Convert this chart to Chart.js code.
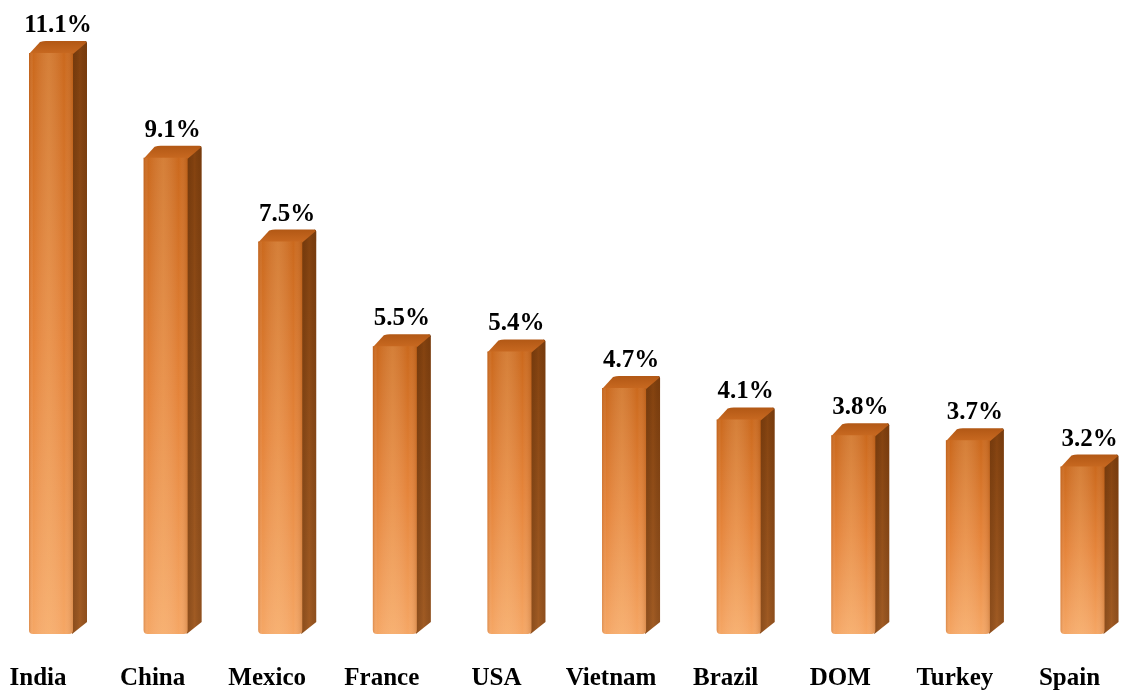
<!DOCTYPE html>
<html><head><meta charset="utf-8">
<script src="https://cdn.jsdelivr.net/npm/chart.js@4"></script>
<style>html,body{margin:0;padding:0;background:#fff}#wrap{width:1126px;height:690px;position:relative}</style>
</head><body><div id="wrap"><canvas id="c"></canvas></div>
<script>
const categories = ['India','China','Mexico','France','USA','Vietnam','Brazil','DOM','Turkey','Spain'];
const shares = [11.1, 9.1, 7.5, 5.5, 5.4, 4.7, 4.1, 3.8, 3.7, 3.2];
const shareLabels = ['11.1%','9.1%','7.5%','5.5%','5.4%','4.7%','4.1%','3.8%','3.7%','3.2%'];

const FONT = '"Liberation Serif", "Times New Roman", serif';
const FRONT_W = 44, SHIFT = -9, DX = 14, DY = 12;

function rrPath(ctx, l, t, r, b, rad) {
  ctx.beginPath();
  ctx.moveTo(l, t);
  ctx.lineTo(r, t);
  ctx.lineTo(r, b - rad);
  ctx.quadraticCurveTo(r, b, r - rad, b);
  ctx.lineTo(l + rad, b);
  ctx.quadraticCurveTo(l, b, l, b - rad);
  ctx.closePath();
}

const bars3d = {
  id: 'bars3d',
  afterDatasetsDraw(chart) {
    const ctx = chart.ctx;
    const meta = chart.getDatasetMeta(0);
    ctx.save();
    meta.data.forEach((bar, i) => {
      const l = bar.x + SHIFT, r = l + FRONT_W, t = bar.y, b = bar.base;
      // side face
      let g = ctx.createLinearGradient(0, t - DY, 0, b);
      g.addColorStop(0, '#84420F');
      g.addColorStop(1, '#A25C24');
      ctx.fillStyle = g;
      ctx.beginPath();
      ctx.moveTo(r - 1, t);
      ctx.lineTo(r + DX - 2, t - DY);
      ctx.quadraticCurveTo(r + DX, t - DY, r + DX, t - DY + 2);
      ctx.lineTo(r + DX, b - DY);
      ctx.lineTo(r - 1, b);
      ctx.closePath();
      ctx.fill();
      let gh = ctx.createLinearGradient(r, 0, r + DX, 0);
      gh.addColorStop(0, 'rgba(60,25,0,0.2)');
      gh.addColorStop(0.5, 'rgba(0,0,0,0)');
      gh.addColorStop(1, 'rgba(60,25,0,0.18)');
      ctx.fillStyle = gh;
      ctx.fill();
      // top face
      g = ctx.createLinearGradient(0, t - DY, 0, t);
      g.addColorStop(0, '#B25815');
      g.addColorStop(1, '#C76820');
      ctx.fillStyle = g;
      ctx.beginPath();
      ctx.moveTo(l, t + 1);
      ctx.lineTo(l + DX - 3, t - DY + 1);
      ctx.quadraticCurveTo(l + DX, t - DY, l + DX + 3, t - DY);
      ctx.lineTo(r + DX - 3, t - DY);
      ctx.quadraticCurveTo(r + DX, t - DY, r + DX - 1, t - DY + 2);
      ctx.lineTo(r, t + 1);
      ctx.closePath();
      ctx.fill();
      // front face
      g = ctx.createLinearGradient(0, t, 0, b);
      g.addColorStop(0, '#CB691D');
      g.addColorStop(0.5, '#E5843A');
      g.addColorStop(1, '#F5A664');
      ctx.fillStyle = g;
      rrPath(ctx, l, t, r, b, 4);
      ctx.fill();
      gh = ctx.createLinearGradient(l, 0, r, 0);
      gh.addColorStop(0, 'rgba(150,60,0,0.25)');
      gh.addColorStop(0.1, 'rgba(255,255,255,0)');
      gh.addColorStop(0.45, 'rgba(255,220,170,0.2)');
      gh.addColorStop(0.8, 'rgba(255,255,255,0)');
      gh.addColorStop(1, 'rgba(120,50,0,0.2)');
      ctx.fillStyle = gh;
      ctx.fill();
      // value label
      ctx.fillStyle = '#000';
      ctx.font = 'bold 25px ' + FONT;
      ctx.textAlign = 'center';
      ctx.textBaseline = 'alphabetic';
      ctx.fillText(shareLabels[i], l + (FRONT_W + DX) / 2, t - DY - 9);
    });
    ctx.restore();
  }
};

new Chart(document.getElementById('c'), {
  type: 'bar',
  data: {
    labels: categories,
    datasets: [{
      data: shares,
      backgroundColor: 'rgba(0,0,0,0)',
      borderWidth: 0
    }]
  },
  options: {
    responsive: true,
    maintainAspectRatio: false,
    animation: false,
    events: [],
    layout: { padding: { left: 38, right: 56.5, top: 6, bottom: 0 } },
    plugins: { legend: { display: false }, tooltip: { enabled: false } },
    scales: {
      x: {
        offset: false,
        grid: { display: false, drawTicks: false },
        border: { display: false },
        ticks: {
          color: '#000',
          padding: 32,
          maxRotation: 0,
          autoSkip: false,
          font: { family: FONT, size: 25, weight: 'bold', lineHeight: 1 }
        },
        afterFit(scale) {
          scale.height = 56;
          scale.paddingLeft = 0;
          scale.paddingRight = 0;
        }
      },
      y: { display: false, min: 0, max: 12 }
    }
  },
  plugins: [bars3d]
});
</script>
</body></html>
